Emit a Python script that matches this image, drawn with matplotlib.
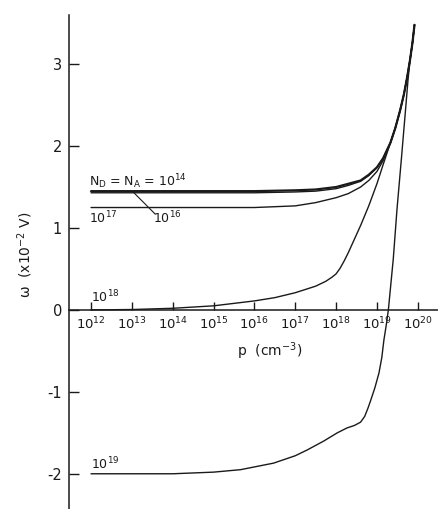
import matplotlib
matplotlib.use('Agg')
import matplotlib.pyplot as plt
from matplotlib.ticker import NullLocator

# ---- data (log10 p in cm^-3, omega in units of 1e-2 V) ----
logp_14 = [12, 13, 14, 15, 16, 17, 17.5, 18, 18.3, 18.6, 18.8, 19.0, 19.15,
           19.33, 19.45, 19.57, 19.66, 19.74, 19.81, 19.87, 19.92]
omega_14 = [1.45, 1.45, 1.45, 1.45, 1.45, 1.46, 1.47, 1.50, 1.54, 1.58, 1.65, 1.74, 1.85,
            2.04, 2.22, 2.44, 2.63, 2.84, 3.05, 3.26, 3.48]

logp_16 = [12, 13, 14, 15, 16, 17, 17.5, 18, 18.3, 18.6, 18.8, 19.0, 19.15,
           19.33, 19.45, 19.57, 19.66, 19.74, 19.81, 19.87, 19.92]
omega_16 = [1.43, 1.43, 1.43, 1.43, 1.43, 1.44, 1.45, 1.48, 1.52, 1.57, 1.64, 1.74, 1.85,
            2.04, 2.22, 2.44, 2.63, 2.84, 3.05, 3.26, 3.48]

logp_17 = [12, 13, 14, 15, 16, 16.5, 17, 17.5, 18, 18.3, 18.6, 18.8, 19.0, 19.15,
           19.33, 19.45, 19.57, 19.66, 19.74, 19.81, 19.87, 19.92]
omega_17 = [1.25, 1.25, 1.25, 1.25, 1.25, 1.26, 1.27, 1.31, 1.37, 1.42, 1.50, 1.58, 1.69, 1.82,
            2.04, 2.22, 2.44, 2.63, 2.84, 3.05, 3.26, 3.48]

logp_18 = [12, 13, 14, 15, 16, 16.5, 17, 17.5, 17.75, 17.9, 18.0, 18.1, 18.2, 18.3, 18.4,
           18.6, 18.8, 19.0, 19.15, 19.33, 19.45, 19.57, 19.66, 19.74, 19.81, 19.87, 19.92]
omega_18 = [0.0, 0.005, 0.02, 0.05, 0.11, 0.15, 0.21, 0.29, 0.35, 0.40, 0.44, 0.51, 0.60, 0.70, 0.81,
            1.03, 1.27, 1.54, 1.77, 2.04, 2.22, 2.44, 2.63, 2.84, 3.05, 3.26, 3.48]

logp_19 = [12, 13, 14, 15, 15.66, 16.47, 17.0, 17.29, 17.7, 18.03, 18.27, 18.45, 18.6, 18.7,
           18.78, 18.85, 18.95, 19.05, 19.12, 19.17, 19.23, 19.28, 19.40, 19.49, 19.60,
           19.70, 19.76, 19.81, 19.87, 19.92]
omega_19 = [-2.0, -2.0, -2.0, -1.98, -1.95, -1.87, -1.78, -1.71, -1.60, -1.50, -1.44, -1.41,
            -1.37, -1.30, -1.20, -1.10, -0.95, -0.77, -0.58, -0.37, -0.18, 0.0, 0.62, 1.22,
            1.85, 2.44, 2.80, 3.05, 3.26, 3.48]

xtick_exponents = [12, 13, 14, 15, 16, 17, 18, 19, 20]
ytick_values = [-2, -1, 0, 1, 2, 3]
ytick_labels = ['-2', '-1', '0', '1', '2', '3']

ink = '#1a1a1a'

fig = plt.figure(figsize=(4.39, 5.09), dpi=100)
ax = fig.add_axes([69 / 439, 0, 370 / 439, 494 / 509])
ax.set_xscale('log')
ax.set_xlim(10 ** 11.46, 10 ** 20.52)
ax.set_ylim(-2.43, 3.60)

for s in ['top', 'right']:
    ax.spines[s].set_visible(False)
ax.spines['bottom'].set_position(('data', 0))
for s in ['left', 'bottom']:
    ax.spines[s].set_linewidth(1.1)
    ax.spines[s].set_color(ink)

ax.set_xticks([10.0 ** k for k in xtick_exponents])
ax.set_xticklabels([f'$10^{{{k}}}$' for k in xtick_exponents])
ax.xaxis.set_minor_locator(NullLocator())
ax.set_yticks(ytick_values)
ax.set_yticklabels(ytick_labels)
ax.tick_params(axis='x', direction='in', length=6, width=1, pad=4,
               labelsize=9.5, colors=ink)
ax.tick_params(axis='y', direction='in', length=7, width=1, pad=5,
               labelsize=10.5, colors=ink)

def P(lst):
    return [10.0 ** v for v in lst]

kw = dict(color=ink, solid_joinstyle='round', solid_capstyle='round')
ax.plot(P(logp_14), omega_14, lw=1.6, **kw)
ax.plot(P(logp_16), omega_16, lw=1.0, **kw)
ax.plot(P(logp_17), omega_17, lw=1.0, **kw)
ax.plot(P(logp_18), omega_18, lw=1.0, **kw)
ax.plot(P(logp_19), omega_19, lw=1.0, **kw)

# curve labels
ax.text(10 ** 11.95, 1.56, r'N$_\mathrm{D}$ = N$_\mathrm{A}$ = 10$^{14}$', fontsize=9,
        color=ink, ha='left', va='center')
ax.text(10 ** 11.95, 1.12, r'10$^{17}$', fontsize=9, color=ink, ha='left', va='center')
ax.text(10 ** 13.52, 1.12, r'10$^{16}$', fontsize=9, color=ink, ha='left', va='center')
ax.plot([10 ** 13.03, 10 ** 13.57], [1.44, 1.17], color=ink, lw=0.8)
ax.text(10 ** 12.0, 0.16, r'10$^{18}$', fontsize=9, color=ink, ha='left', va='center')
ax.text(10 ** 12.0, -1.88, r'10$^{19}$', fontsize=9, color=ink, ha='left', va='center')

# axis labels
fig.text(270 / 439, 1 - 351 / 509, r'p  (cm$^{-3}$)', fontsize=10, color=ink,
         ha='center', va='center')
fig.text(25 / 439, 1 - 255 / 509, r'ω  (x10$^{-2}$ V)', fontsize=10, color=ink,
         ha='center', va='center', rotation=90)

fig.savefig('out.png', dpi=100, facecolor='white')
